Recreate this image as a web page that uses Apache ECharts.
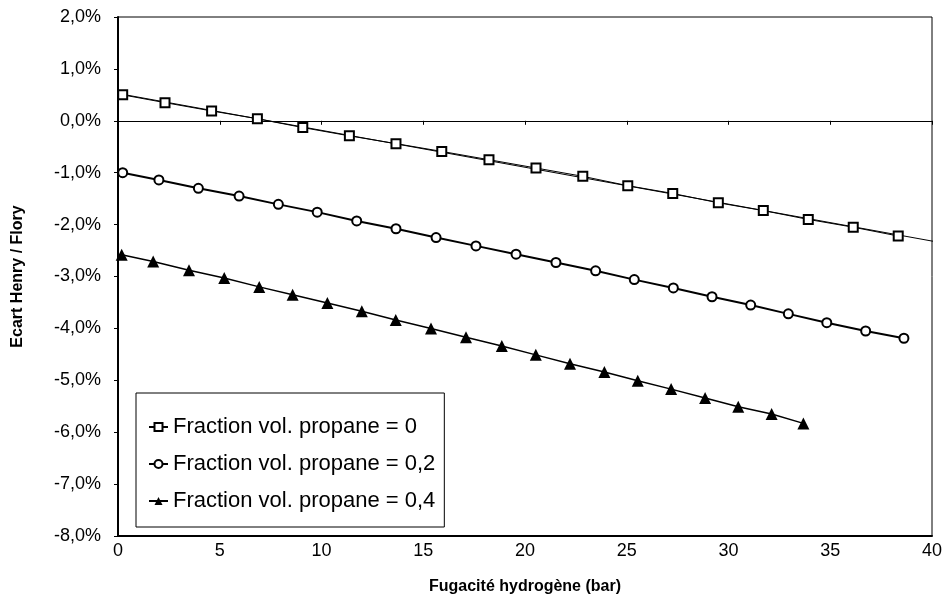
<!DOCTYPE html>
<html>
<head>
<meta charset="utf-8">
<script src="https://cdn.jsdelivr.net/npm/echarts@6/dist/echarts.min.js"></script>
<style>
html,body{margin:0;padding:0;background:#fff;}
#chart{width:950px;height:604px;}
</style>
</head>
<body>
<div id="chart"></div>
<script>
// ---- Data (values in %) ----
const seriesNames = ['Fraction vol. propane = 0', 'Fraction vol. propane = 0,2', 'Fraction vol. propane = 0,4'];
const squareX = [0.23, 2.31, 4.60, 6.85, 9.08, 11.37, 13.66, 15.91, 18.23, 20.54, 22.84, 25.05, 27.26, 29.50, 31.71, 33.92, 36.13, 38.34];
const squareY = [0.50, 0.35, 0.19, 0.04, -0.13, -0.29, -0.44, -0.59, -0.75, -0.91, -1.07, -1.25, -1.40, -1.58, -1.73, -1.90, -2.05, -2.22];
const circleX = [0.23, 2.01, 3.95, 5.95, 7.88, 9.79, 11.73, 13.66, 15.63, 17.59, 19.56, 21.52, 23.47, 25.37, 27.29, 29.19, 31.09, 32.94, 34.83, 36.74, 38.62];
const circleY = [-1.00, -1.14, -1.30, -1.45, -1.61, -1.76, -1.93, -2.08, -2.25, -2.41, -2.57, -2.73, -2.89, -3.06, -3.22, -3.39, -3.55, -3.72, -3.89, -4.05, -4.19];
const triX = [0.18, 1.73, 3.49, 5.22, 6.94, 8.58, 10.29, 11.98, 13.65, 15.38, 17.10, 18.86, 20.53, 22.21, 23.90, 25.54, 27.18, 28.85, 30.48, 32.12, 33.68];
const triY = [-2.58, -2.71, -2.88, -3.03, -3.20, -3.35, -3.51, -3.67, -3.84, -4.00, -4.17, -4.34, -4.51, -4.68, -4.84, -5.01, -5.17, -5.34, -5.51, -5.65, -5.83];
const trendForwardTo = 40.5; // linear trendline of first series, forecast forward
const xTicks = [0, 5, 10, 15, 20, 25, 30, 35, 40];
const yTicks = [-8, -7, -6, -5, -4, -3, -2, -1, 0, 1, 2];

const zip = (xs, ys) => xs.map((x, i) => [x, ys[i]]);

// least-squares trendline for the first series
function linFit(xs, ys) {
  const n = xs.length;
  const mx = xs.reduce((a, b) => a + b, 0) / n;
  const my = ys.reduce((a, b) => a + b, 0) / n;
  let sxy = 0, sxx = 0;
  for (let i = 0; i < n; i++) { sxy += (xs[i] - mx) * (ys[i] - my); sxx += (xs[i] - mx) * (xs[i] - mx); }
  const b = sxy / sxx;
  return { a: my - b * mx, b };
}
const fit = linFit(squareX, squareY);
const trendData = [[squareX[0], fit.a + fit.b * squareX[0]], [trendForwardTo, fit.a + fit.b * trendForwardTo]];

const FONT = "'Liberation Sans', Arial, Helvetica, sans-serif";
const chart = echarts.init(document.getElementById('chart'), null, { renderer: 'canvas' });

chart.setOption({
  backgroundColor: '#fff',
  animation: false,
  grid: {
    left: 118, right: 18, top: 17, bottom: 68,
    show: true, borderColor: '#000', borderWidth: 1, backgroundColor: 'transparent'
  },
  legend: {
    orient: 'vertical',
    left: 136, top: 393,
    padding: [22, 9, 14, 12],
    itemGap: 13,
    itemWidth: 19, itemHeight: 10,
    borderColor: '#000', borderWidth: 1, borderRadius: 0,
    backgroundColor: '#fff',
    data: seriesNames,
    textStyle: { fontFamily: FONT, fontSize: 22, color: '#000', lineHeight: 24 }
  },
  xAxis: [
    {
      type: 'value', min: xTicks[0], max: xTicks[xTicks.length - 1], interval: 5,
      position: 'bottom',
      name: 'Fugacité hydrogène (bar)', nameLocation: 'middle', nameGap: 43,
      nameTextStyle: { fontFamily: FONT, fontSize: 16, fontWeight: 'bold', color: '#000' },
      axisLine: { show: true, onZero: false, lineStyle: { color: '#000', width: 2 } },
      axisTick: { show: false },
      axisLabel: { fontFamily: FONT, fontSize: 18, color: '#000', margin: 6 },
      splitLine: { show: false }
    },
    {
      type: 'value', min: xTicks[0], max: xTicks[xTicks.length - 1], interval: 5,
      position: 'bottom',
      axisLine: { show: true, onZero: true, lineStyle: { color: '#000', width: 1 } },
      axisTick: { show: true, inside: false, length: 4, lineStyle: { color: '#000', width: 1 } },
      axisLabel: { show: false },
      splitLine: { show: false }
    }
  ],
  yAxis: {
    type: 'value', min: yTicks[0], max: yTicks[yTicks.length - 1], interval: 1,
    name: 'Ecart Henry / Flory', nameLocation: 'middle', nameGap: 92,
    nameTextStyle: { fontFamily: FONT, fontSize: 16, fontWeight: 'bold', color: '#000' },
    axisLine: { show: true, onZero: false, lineStyle: { color: '#000', width: 2 } },
    axisTick: { show: true, inside: false, length: 4, lineStyle: { color: '#000' } },
    axisLabel: {
      fontFamily: FONT, fontSize: 18, color: '#000', margin: 17,
      formatter: v => v.toFixed(1).replace('.', ',') + '%'
    },
    splitLine: { show: false }
  },
  series: [
    {
      name: 'trend', type: 'line', xAxisIndex: 0, data: trendData,
      symbol: 'none', clip: false, silent: true,
      lineStyle: { color: '#000', width: 1 }, z: 1
    },
    {
      name: seriesNames[0], type: 'line', xAxisIndex: 0, data: zip(squareX, squareY),
      symbol: 'rect', symbolSize: 9,
      itemStyle: { color: '#fff', borderColor: '#000', borderWidth: 2 },
      lineStyle: { color: '#000', width: 1 }, z: 3
    },
    {
      name: seriesNames[1], type: 'line', xAxisIndex: 0, data: zip(circleX, circleY),
      symbol: 'circle', symbolSize: 9,
      itemStyle: { color: '#fff', borderColor: '#000', borderWidth: 2 },
      lineStyle: { color: '#000', width: 2 }, z: 3
    },
    {
      name: seriesNames[2], type: 'line', xAxisIndex: 0, data: zip(triX, triY),
      symbol: 'triangle', symbolSize: 12,
      itemStyle: { color: '#000', borderColor: '#000', borderWidth: 0 },
      lineStyle: { color: '#000', width: 1.5 }, z: 3
    }
  ]
});
</script>
</body>
</html>
